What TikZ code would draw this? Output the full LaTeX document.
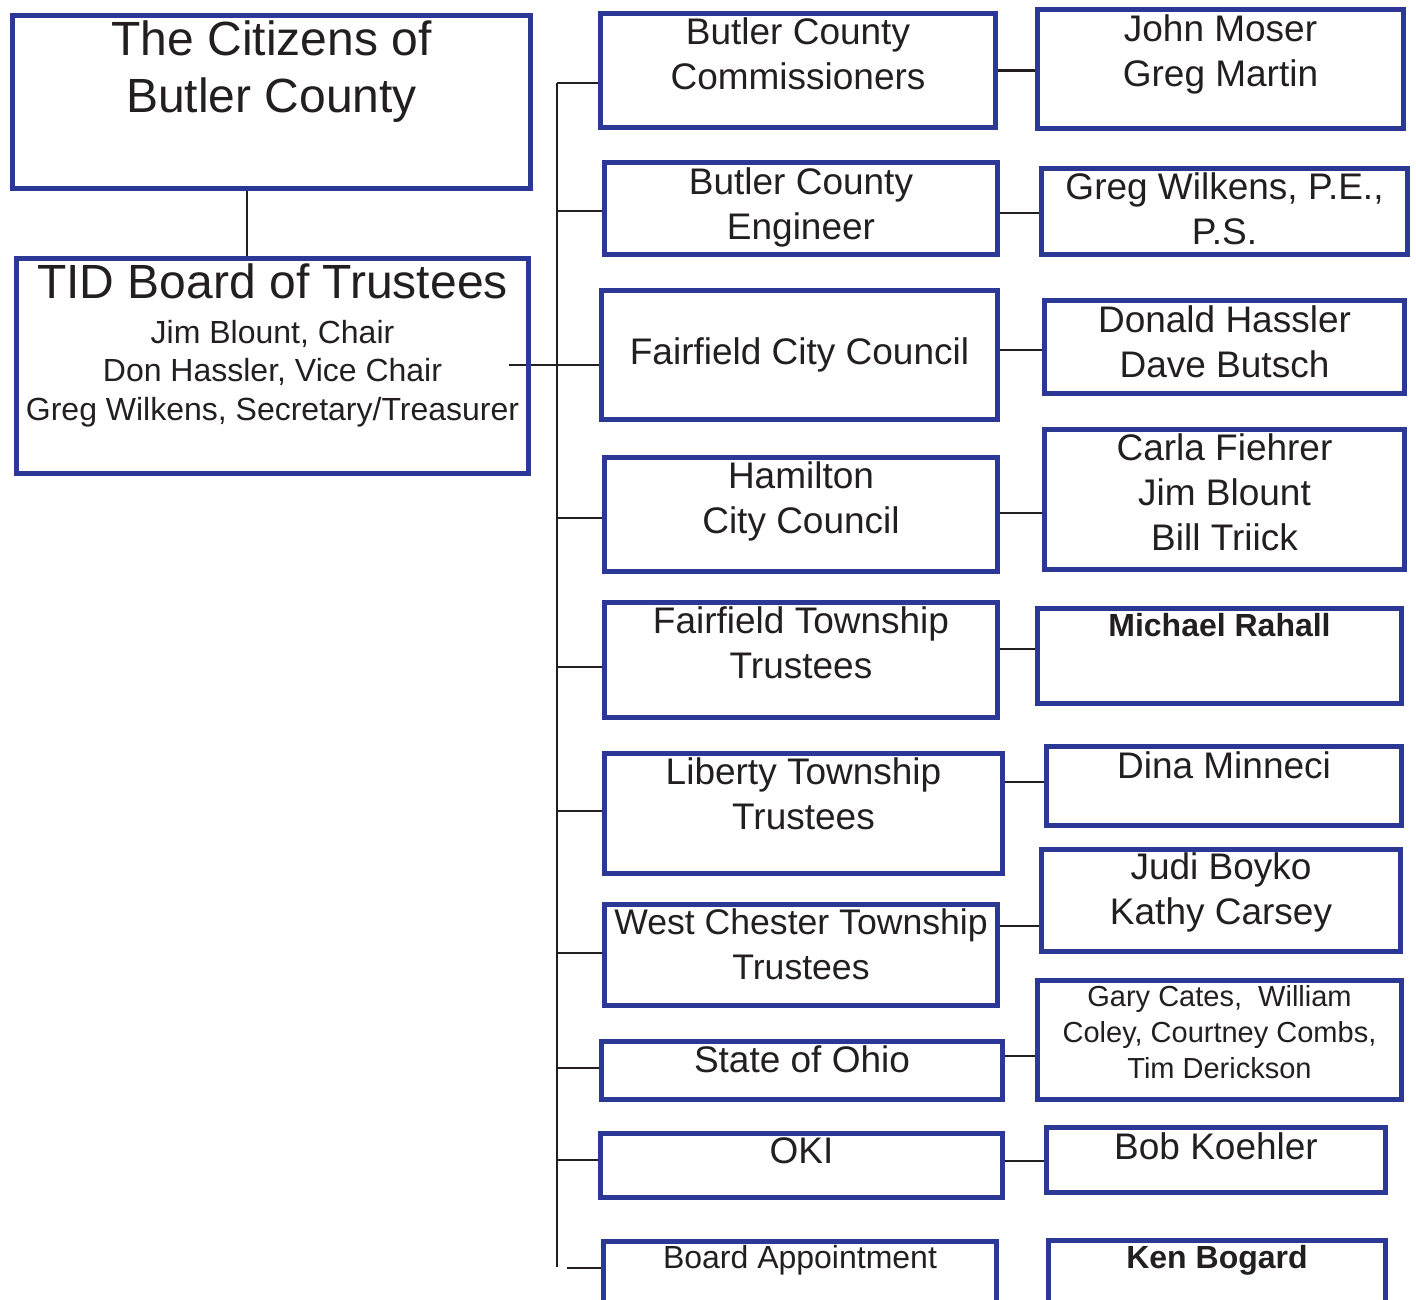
\documentclass[tikz,border=0pt]{standalone}
\usepackage{fontspec}
\setmainfont{Liberation Sans}
\usetikzlibrary{backgrounds}
\definecolor{tidblue}{RGB}{43,56,150}
\definecolor{ink}{RGB}{35,31,32}
\begin{document}
\begin{tikzpicture}
    [x=1pt,y=-1pt,
     Box/.style={draw=tidblue,line width=5pt,inner sep=0pt,outer sep=0pt},
     Big/.style={font=\fontsize{48}{57}\selectfont,align=center,inner sep=0pt,text=ink},
     Mid/.style={font=\fontsize{37}{45}\selectfont,align=center,inner sep=0pt,text=ink},
     Small/.style={font=\fontsize{32}{38.5}\selectfont,align=center,inner sep=0pt,text=ink},
     Tiny/.style={font=\fontsize{29}{36}\selectfont,align=center,inner sep=0pt,text=ink},
     Link/.style={draw=ink,line width=2.5pt}]
    \useasboundingbox (0,0) rectangle (1416,1300);
    \clip (0,0) rectangle (1416,1300);
    % left column
    \node[Box,minimum width=518pt,minimum height=173pt] (cit) at (271.5,102) {};
    \node[Big] (citT) at ([yshift=30pt]cit.center) {The Citizens of\\Butler County};
    \node[Box,minimum width=512pt,minimum height=215pt] (tid) at (272.5,366) {};
    \node[Big] (tidT) at ([yshift=85pt]tid.center) {TID Board of Trustees};
    \node[Small] (tidN) at ([yshift=-7.5pt]tid.center) {Jim Blount, Chair\\Don Hassler, Vice Chair\\Greg Wilkens, Secretary/Treasurer};
    % middle column
    \node[Box,minimum width=395pt,minimum height=114pt] (m1) at (798,70.5) {};
    \node[Mid] (m1T) at ([yshift=17pt]m1.center) {Butler County\\Commissioners};
    \node[Box,minimum width=393pt,minimum height=92pt] (m2) at (801,208.5) {};
    \node[Mid] (m2T) at ([yshift=1.5pt]m2.center) {Butler County\\Engineer};
    \node[Box,minimum width=396pt,minimum height=129pt] (m3) at (799.5,355) {};
    \node[Mid] (m3T) at (m3.center) {Fairfield City Council};
    \node[Box,minimum width=393pt,minimum height=114pt] (m4) at (801,514.5) {};
    \node[Mid] (m4T) at ([yshift=13.5pt]m4.center) {Hamilton\\City Council};
    \node[Box,minimum width=393pt,minimum height=115pt] (m5) at (801,660) {};
    \node[Mid] (m5T) at ([yshift=17pt]m5.center) {Fairfield Township\\Trustees};
    \node[Box,minimum width=398pt,minimum height=120pt] (m6) at (803.5,813.5) {};
    \node[Mid] (m6T) at ([yshift=19.5pt]m6.center) {Liberty Township\\Trustees};
    \node[Box,minimum width=393pt,minimum height=101pt] (m7) at (801,955) {};
    \node[Mid,font=\fontsize{35.6}{45}\selectfont] (m7T) at ([yshift=10.5pt]m7.center) {West Chester Township\\Trustees};
    \node[Box,minimum width=401pt,minimum height=58pt] (m8) at (802,1070.5) {};
    \node[Mid] (m8T) at ([yshift=11.5pt]m8.center) {State of Ohio};
    \node[Box,minimum width=402pt,minimum height=64pt] (m9) at (801.5,1165.5) {};
    \node[Mid] (m9T) at ([yshift=14.5pt]m9.center) {OKI};
    \node[Box,minimum width=393pt,minimum height=95pt] (m10) at (800,1289) {};
    \node[Small] (m10T) at ([yshift=29pt]m10.center) {Board Appointment};
    % right column
    \node[Box,minimum width=366pt,minimum height=119pt] (r1) at (1220.5,69) {};
    \node[Mid] (r1T) at ([yshift=15pt]r1.center) {John Moser\\Greg Martin};
    \node[Box,minimum width=366pt,minimum height=86pt] (r2) at (1224.5,211.5) {};
    \node[Mid] (r2T) at ([yshift=3pt]r2.center) {Greg Wilkens, P.E.,\\P.S.};
    \node[Box,minimum width=360pt,minimum height=93pt] (r3) at (1224.5,347) {};
    \node[Mid] (r3T) at ([yshift=5.5pt]r3.center) {Donald Hassler\\Dave Butsch};
    \node[Box,minimum width=360pt,minimum height=140pt] (r4) at (1224.5,499.5) {};
    \node[Mid] (r4T) at ([yshift=7.5pt]r4.center) {Carla Fiehrer\\Jim Blount\\Bill Triick};
    \node[Box,minimum width=364pt,minimum height=95pt] (r5) at (1219.5,656) {};
    \node[Small] (r5T) at ([yshift=31pt]r5.center) {\bfseries Michael Rahall};
    \node[Box,minimum width=355pt,minimum height=79pt] (r6) at (1224,786) {};
    \node[Mid] (r6T) at ([yshift=21pt]r6.center) {Dina Minneci};
    \node[Box,minimum width=359pt,minimum height=102pt] (r7) at (1221,900.5) {};
    \node[Mid] (r7T) at ([yshift=8pt]r7.center) {Judi Boyko\\Kathy Carsey};
    \node[Box,minimum width=364pt,minimum height=119pt] (r8) at (1219.5,1040) {};
    \node[Tiny] (r8T) at ([yshift=7.5pt]r8.center) {Gary Cates,\ \ William\\Coley, Courtney Combs,\\Tim Derickson};
    \node[Box,minimum width=339pt,minimum height=65pt] (r9) at (1216,1160) {};
    \node[Mid] (r9T) at ([yshift=14pt]r9.center) {Bob Koehler};
    \node[Box,minimum width=337pt,minimum height=95pt] (r10) at (1217,1288) {};
    \node[Small] (r10T) at ([yshift=28pt]r10.center) {\bfseries Ken Bogard};
    % connectors
    \begin{scope}[on background layer]
        \coordinate (trunk) at (557,83);
        \coordinate (trunkEnd) at (557,1267);
        \coordinate (stub) at (567,1268);
        \draw[Link] (trunk) -- (trunkEnd);
        \draw[Link] ([xshift=-24.5pt]cit.south) -- ([xshift=-24.5pt]cit.south |- tid.north);
        \draw[Link] ([xshift=-19.5pt,yshift=1pt]tid.east) -- ([yshift=1pt]tid.east -| m3.west);
        \draw[Link] ([yshift=-12.5pt]m1.west) -- ([yshift=-12.5pt]m1.west -| trunk);
        \draw[Link] ([yshift=-2.5pt]m2.west) -- ([yshift=-2.5pt]m2.west -| trunk);
        \draw[Link] ([yshift=-3.5pt]m4.west) -- ([yshift=-3.5pt]m4.west -| trunk);
        \draw[Link] ([yshift=-7pt]m5.west) -- ([yshift=-7pt]m5.west -| trunk);
        \draw[Link] ([yshift=2.5pt]m6.west) -- ([yshift=2.5pt]m6.west -| trunk);
        \draw[Link] ([yshift=2pt]m7.west) -- ([yshift=2pt]m7.west -| trunk);
        \draw[Link] ([yshift=2.5pt]m8.west) -- ([yshift=2.5pt]m8.west -| trunk);
        \draw[Link] ([yshift=5.5pt]m9.west) -- ([yshift=5.5pt]m9.west -| trunk);
        \draw[Link] (stub) -- (stub -| m10.west);
        \draw[Link] (m1.east) -- (m1.east -| r1.west);
        \draw[Link] ([yshift=-4.5pt]m2.east) -- ([yshift=-4.5pt]m2.east -| r2.west);
        \draw[Link] ([yshift=5pt]m3.east) -- ([yshift=5pt]m3.east -| r3.west);
        \draw[Link] ([yshift=1.5pt]m4.east) -- ([yshift=1.5pt]m4.east -| r4.west);
        \draw[Link] ([yshift=11pt]m5.east) -- ([yshift=11pt]m5.east -| r5.west);
        \draw[Link] ([yshift=31.5pt]m6.east) -- ([yshift=31.5pt]m6.east -| r6.west);
        \draw[Link] ([yshift=29pt]m7.east) -- ([yshift=29pt]m7.east -| r7.west);
        \draw[Link] ([yshift=14.5pt]m8.east) -- ([yshift=14.5pt]m8.east -| r8.west);
        \draw[Link] ([yshift=4.5pt]m9.east) -- ([yshift=4.5pt]m9.east -| r9.west);
    \end{scope}
\end{tikzpicture}
\end{document}
